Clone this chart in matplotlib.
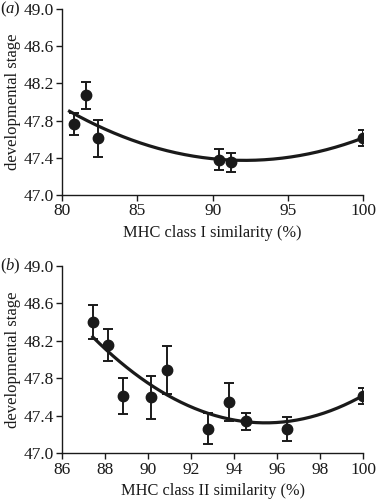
import numpy as np
import matplotlib
matplotlib.use("Agg")
import matplotlib.pyplot as plt

plt.rcParams['font.family'] = ['Liberation Serif', 'DejaVu Serif']
plt.rcParams['mathtext.fontset'] = 'custom'
plt.rcParams['mathtext.it'] = 'Liberation Serif:italic'
plt.rcParams['mathtext.rm'] = 'Liberation Serif'

# Panel (a): MHC class I
xa = [80.8, 81.6, 82.4, 90.4, 91.25, 100.0]
ya = [47.76, 48.07, 47.61, 47.38, 47.35, 47.61]
ea = [0.12, 0.145, 0.20, 0.115, 0.10, 0.085]
# fitted curve, points
curve_a_x = [80.5, 86.5, 90.3, 92.5, 96.9, 100.0]
curve_a_y = [47.90, 47.50, 47.38, 47.37, 47.47, 47.61]

# Panel (b): MHC class II
xb = [87.46, 88.12, 88.85, 90.14, 90.87, 92.8, 93.78, 94.54, 96.47, 100.0]
yb = [48.40, 48.16, 47.61, 47.60, 47.89, 47.26, 47.55, 47.34, 47.26, 47.61]
eb = [0.18, 0.17, 0.195, 0.23, 0.26, 0.165, 0.205, 0.095, 0.125, 0.085]
curve_b_x = [87.43, 90.79, 92.88, 96.28, 100.0]
curve_b_y = [48.24, 47.64, 47.42, 47.33, 47.62]

yticks = [47.0, 47.4, 47.8, 48.2, 48.6, 49.0]
xticks_a = [80, 85, 90, 95, 100]
xticks_b = [86, 88, 90, 92, 94, 96, 98, 100]

W, H = 379, 500
fig = plt.figure(figsize=(W / 100, H / 100), dpi=100)

def make_axes(rect, x, y, e, cx, cy, xticks, xlabel, panel):
    ax = fig.add_axes(rect)
    coef = np.polyfit(cx, cy, 2)
    xs = np.linspace(min(cx), max(cx), 200)
    ax.plot(xs, np.polyval(coef, xs), color='#1a1a1a', lw=2.3, zorder=2)
    ax.errorbar(x, y, yerr=e, fmt='o', color='#1a1a1a', ms=7.5, elinewidth=1.4,
                capsize=3.8, capthick=1.4, zorder=3)
    ax.set_xlim(xticks[0], xticks[-1])
    ax.set_ylim(47.0, 49.0)
    ax.set_xticks(xticks)
    ax.set_yticks(yticks)
    ax.set_yticklabels([f"{v:.1f}" for v in yticks])
    for s in ['top', 'right']:
        ax.spines[s].set_visible(False)
    for s in ['left', 'bottom']:
        ax.spines[s].set_linewidth(1.0)
        ax.spines[s].set_color('#1a1a1a')
    ax.tick_params(direction='out', length=4, width=1.0, labelsize=12.5,
                   colors='#1a1a1a', pad=2)
    ax.set_xlabel(xlabel, fontsize=11.8, labelpad=4, color='#1a1a1a')
    ax.set_ylabel('developmental stage', fontsize=12, labelpad=2, color='#1a1a1a')
    ax.text(-0.205, 1.0, '(' + r'$\mathit{' + panel + '}$' + ')', transform=ax.transAxes,
            fontsize=12, ha='left', va='center', color='#1a1a1a')
    return ax

make_axes([62 / W, 1 - 195 / H, (363.3 - 62) / W, (195 - 9) / H],
          xa, ya, ea, curve_a_x, curve_a_y, xticks_a,
          'MHC class I similarity (%)', 'a')
make_axes([62 / W, 1 - 453.3 / H, (363.3 - 62) / W, (453.3 - 266) / H],
          xb, yb, eb, curve_b_x, curve_b_y, xticks_b,
          'MHC class II similarity (%)', 'b')

fig.savefig('out.png', dpi=100)
